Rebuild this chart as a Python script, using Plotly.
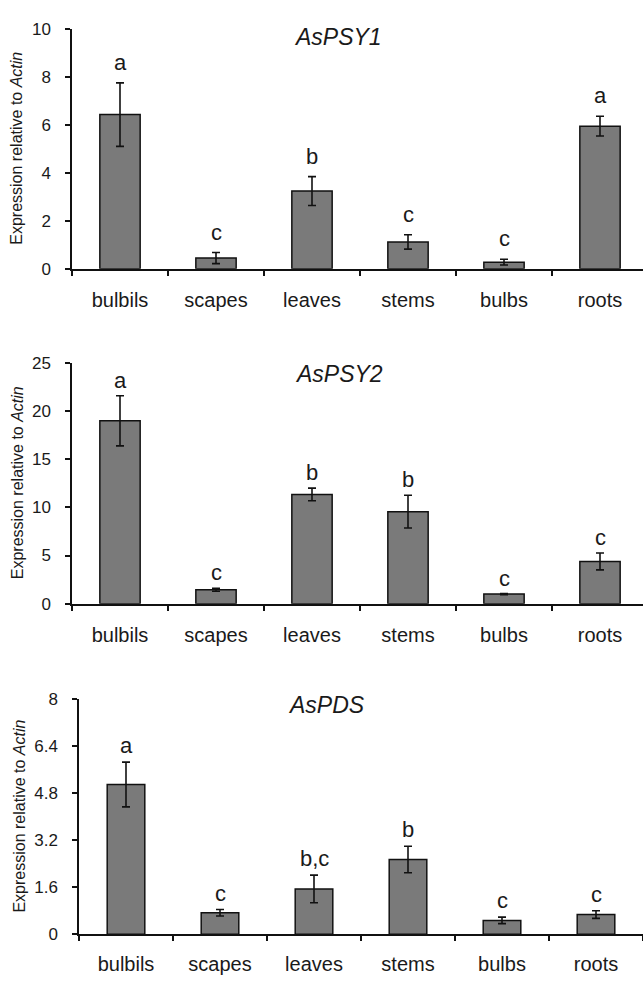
import plotly.graph_objects as go

W, H = 643, 981

categories = ["bulbils", "scapes", "leaves", "stems", "bulbs", "roots"]

psy1_vals = [6.42, 0.45, 3.24, 1.12, 0.28, 5.94]
psy1_err = [1.32, 0.23, 0.60, 0.30, 0.12, 0.41]
psy1_letters = ["a", "c", "b", "c", "c", "a"]

psy2_vals = [18.97, 1.44, 11.34, 9.55, 1.0, 4.39]
psy2_err = [2.6, 0.15, 0.65, 1.7, 0.05, 0.88]
psy2_letters = ["a", "c", "b", "b", "c", "c"]

pds_vals = [5.09, 0.73, 1.54, 2.54, 0.47, 0.67]
pds_err = [0.76, 0.11, 0.47, 0.45, 0.11, 0.13]
pds_letters = ["a", "c", "b,c", "b", "c", "c"]

titles = ["AsPSY1", "AsPSY2", "AsPDS"]
y_ticks_1 = [0, 2, 4, 6, 8, 10]
y_ticks_2 = [0, 5, 10, 15, 20, 25]
y_ticks_3 = [0, 1.6, 3.2, 4.8, 6.4, 8]
y_ticktext_3 = ["0", "1.6", "3.2", "4.8", "6.4", "8"]

FONT = "Liberation Sans, Arial, sans-serif"
TXT = "#1a1a1a"

panels = [
    dict(top=20, bottom=265, left=72, cw=96, bw=0.42, ymax=10, tickv=y_ticks_1,
         tickt=[str(v) for v in y_ticks_1], vals=psy1_vals, err=psy1_err,
         letters=psy1_letters, tx=338, ty=29, yt_x=17, lshift=6, xstand=12),
    dict(top=360.7, bottom=606.5, left=72, cw=96, bw=0.42, ymax=25, tickv=y_ticks_2,
         tickt=[str(v) for v in y_ticks_2], vals=psy2_vals, err=psy2_err,
         letters=psy2_letters, tx=339, ty=372, yt_x=17, lshift=1, xstand=12),
    dict(top=703.5, bottom=943.5, left=79, cw=94, bw=0.40, ymax=8, tickv=y_ticks_3,
         tickt=y_ticktext_3, vals=pds_vals, err=pds_err,
         letters=pds_letters, tx=326, ty=710, yt_x=20, lshift=2, xstand=11),
]

fig = go.Figure()
annotations = []
layout = {}
for i, p in enumerate(panels, start=1):
    sfx = "" if i == 1 else str(i)
    xa, ya = "x" + sfx, "y" + sfx
    fig.add_trace(go.Bar(
        x=categories, y=p["vals"], xaxis=xa, yaxis=ya, width=p["bw"],
        marker=dict(color="#7a7a7a", line=dict(color="#111111", width=1.5)),
        error_y=dict(type="data", array=p["err"], color="#111111",
                     thickness=1.6, width=4),
        showlegend=False, hoverinfo="skip",
    ))
    xmax = -0.5 + (W - p["left"]) / p["cw"]
    layout["xaxis" + sfx] = dict(
        domain=[p["left"] / W, 1], anchor=ya, type="category",
        range=[-0.5, xmax], showline=True, linecolor="#111111", linewidth=1.5,
        ticks="outside", tickson="boundaries", ticklen=5, tickcolor="#111111",
        tickwidth=1.5, showgrid=False, zeroline=False,
        ticklabelstandoff=p["xstand"],
        tickfont=dict(family=FONT, size=20, color=TXT), fixedrange=True,
    )
    layout["yaxis" + sfx] = dict(
        domain=[1 - p["bottom"] / H, 1 - p["top"] / H], anchor=xa,
        range=[0, p["ymax"]], tickvals=p["tickv"], ticktext=p["tickt"],
        showline=True, linecolor="#111111", linewidth=1.5, ticks="outside",
        ticklen=5, tickcolor="#111111", tickwidth=1.5, showgrid=False,
        zeroline=False, ticklabelstandoff=11,
        tickfont=dict(family=FONT, size=17, color=TXT), fixedrange=True,
    )
    annotations.append(dict(
        xref="paper", yref="paper", x=p["tx"] / W, y=1 - p["ty"] / H,
        text="<i>%s</i>" % titles[i - 1], showarrow=False,
        xanchor="center", yanchor="middle",
        font=dict(family=FONT, size=23, color=TXT),
    ))
    annotations.append(dict(
        xref="paper", yref="paper", x=p["yt_x"] / W,
        y=1 - (p["top"] + p["bottom"]) / 2 / H,
        text="Expression relative to <i>Actin</i>", showarrow=False,
        textangle=-90, xanchor="center", yanchor="middle",
        font=dict(family=FONT, size=16, color=TXT),
    ))
    for c, v, e, L in zip(categories, p["vals"], p["err"], p["letters"]):
        annotations.append(dict(
            xref=xa, yref=ya, x=c, y=v + e, text=L, showarrow=False,
            xanchor="center", yanchor="bottom", yshift=p["lshift"],
            font=dict(family=FONT, size=22, color=TXT),
        ))

fig.update_layout(
    width=W, height=H, margin=dict(l=0, r=0, t=0, b=0),
    paper_bgcolor="white", plot_bgcolor="white",
    annotations=annotations, **layout,
)
fig.write_html(
    "out.html", config={"displayModeBar": False},
    post_script="document.body.style.margin='0px';document.body.style.overflow='hidden';",
)
